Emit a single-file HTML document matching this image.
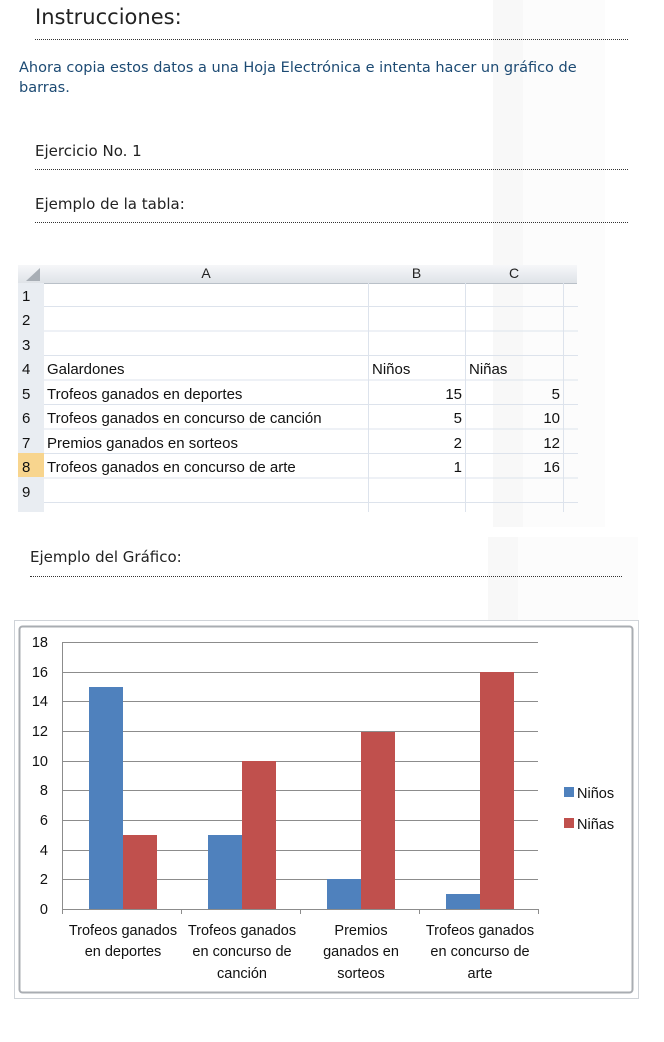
<!DOCTYPE html>
<html><head><meta charset="utf-8"><style>
body{margin:0;width:664px;height:1042px;background:#fff;position:relative;overflow:hidden;font-family:"DejaVu Sans",sans-serif}
.a{position:absolute;white-space:nowrap}
.dl{position:absolute;height:0;border-top:1px dotted #333}
.h{color:#222;font-size:15px}
</style></head><body>
<div class="a" style="left:493px;top:0;width:30px;height:527px;background:#f8f8f8"></div>
<div class="a" style="left:523px;top:0;width:82px;height:527px;background:#fcfcfc"></div>
<div class="a" style="left:488px;top:537px;width:30px;height:90px;background:#f8f8f8"></div>
<div class="a" style="left:518px;top:537px;width:120px;height:90px;background:#fcfcfc"></div>
<div class="a" style="left:35px;top:5px;font-size:21px;color:#222">Instrucciones:</div>
<div class="dl" style="left:35px;top:39px;width:593px"></div>
<div class="a" style="left:19px;top:58px;font-size:14.5px;color:#1c4a73;line-height:20px">Ahora copia estos datos a una Hoja Electrónica e intenta hacer un gráfico de<br>barras.</div>
<div class="a h" style="left:35px;top:142px">Ejercicio No. 1</div>
<div class="dl" style="left:35px;top:169px;width:593px"></div>
<div class="a h" style="left:35px;top:195px">Ejemplo de la tabla:</div>
<div class="dl" style="left:35px;top:222px;width:593px"></div>

<div class="a" style="left:18px;top:265px;width:559px;height:18px;background:linear-gradient(#f6f7f9,#dfe3e8);border-bottom:1px solid #b9c0c8"></div>
<div class="a" style="left:18px;top:283px;width:26px;height:229px;background:#e9edf2"></div>
<div class="a" style="left:18px;top:453px;width:26px;height:24px;background:#f8d58e"></div>
<svg class="a" style="left:20px;top:266px" width="22" height="16"><polygon points="20,2 20,15 6,15" fill="#a8aeb5"/></svg>
<div class="a" style="left:44px;top:265px;width:324px;text-align:center;font:14px 'Liberation Sans',sans-serif;color:#222">A</div>
<div class="a" style="left:368px;top:265px;width:97px;text-align:center;font:14px 'Liberation Sans',sans-serif;color:#222">B</div>
<div class="a" style="left:465px;top:265px;width:98px;text-align:center;font:14px 'Liberation Sans',sans-serif;color:#222">C</div>
<svg class="a" style="left:18px;top:283px" width="560" height="229" font-family="Liberation Sans,sans-serif" font-size="15" fill="#111">
<g stroke="#dde3ec" stroke-width="1">
<line x1="350.5" y1="0" x2="350.5" y2="229"/><line x1="447.5" y1="0" x2="447.5" y2="229"/><line x1="545.5" y1="0" x2="545.5" y2="229"/>
<line x1="26" y1="23.5" x2="560" y2="23.5"/><line x1="26" y1="48" x2="560" y2="48"/><line x1="26" y1="72.5" x2="560" y2="72.5"/><line x1="26" y1="97" x2="560" y2="97"/><line x1="26" y1="121.5" x2="560" y2="121.5"/><line x1="26" y1="146" x2="560" y2="146"/><line x1="26" y1="170.5" x2="560" y2="170.5"/><line x1="26" y1="195" x2="560" y2="195"/><line x1="26" y1="219.5" x2="560" y2="219.5"/>
</g>
<g><text x="4" y="18">1</text><text x="4" y="42">2</text><text x="4" y="67">3</text><text x="4" y="91">4</text><text x="4" y="116">5</text><text x="4" y="140">6</text><text x="4" y="165">7</text><text x="4" y="189">8</text><text x="4" y="214">9</text>
<text x="29" y="91">Galardones</text><text x="354" y="91">Niños</text><text x="451" y="91">Niñas</text>
<text x="29" y="116">Trofeos ganados en deportes</text><text x="29" y="140">Trofeos ganados en concurso de canción</text><text x="29" y="165">Premios ganados en sorteos</text><text x="29" y="189">Trofeos ganados en concurso de arte</text>
<g text-anchor="end"><text x="444" y="116">15</text><text x="444" y="140">5</text><text x="444" y="165">2</text><text x="444" y="189">1</text>
<text x="542" y="116">5</text><text x="542" y="140">10</text><text x="542" y="165">12</text><text x="542" y="189">16</text></g></g>
</svg>

<div class="a h" style="left:30px;top:548px">Ejemplo del Gráfico:</div>
<div class="dl" style="left:30px;top:576px;width:592px"></div>

<svg class="a" style="left:0;top:615px" width="664" height="390" font-family="Liberation Sans,sans-serif" font-size="14.5" fill="#111">
<rect x="14.5" y="5.5" width="624" height="378" fill="#fff" stroke="#cfd3d8"/>
<rect x="19.5" y="11.5" width="613" height="366" fill="#fff" stroke="#a9adb2" stroke-width="2" rx="3"/>
<g stroke="#8c8c8c" stroke-width="1">
<line x1="62" y1="27.5" x2="538" y2="27.5"/><line x1="62" y1="57.5" x2="538" y2="57.5"/><line x1="62" y1="86.5" x2="538" y2="86.5"/><line x1="62" y1="116.5" x2="538" y2="116.5"/><line x1="62" y1="146.5" x2="538" y2="146.5"/><line x1="62" y1="175.5" x2="538" y2="175.5"/><line x1="62" y1="205.5" x2="538" y2="205.5"/><line x1="62" y1="235.5" x2="538" y2="235.5"/><line x1="62" y1="264.5" x2="538" y2="264.5"/>
<line x1="62" y1="294.5" x2="538" y2="294.5"/><line x1="62.5" y1="27" x2="62.5" y2="299"/>
<line x1="181.5" y1="294" x2="181.5" y2="299"/><line x1="300.5" y1="294" x2="300.5" y2="299"/><line x1="419.5" y1="294" x2="419.5" y2="299"/><line x1="538.5" y1="294" x2="538.5" y2="299"/>
</g>
<g fill="#4f81bd"><rect x="89" y="72" width="34" height="222"/><rect x="208" y="220" width="34" height="74"/><rect x="327" y="264" width="34" height="30"/><rect x="446" y="279" width="34" height="15"/></g>
<g fill="#c0504d"><rect x="123" y="220" width="34" height="74"/><rect x="242" y="146" width="34" height="148"/><rect x="361" y="117" width="34" height="177"/><rect x="480" y="57" width="34" height="237"/></g>
<g text-anchor="end"><text x="48" y="32">18</text><text x="48" y="62">16</text><text x="48" y="91">14</text><text x="48" y="121">12</text><text x="48" y="151">10</text><text x="48" y="180">8</text><text x="48" y="210">6</text><text x="48" y="240">4</text><text x="48" y="269">2</text><text x="48" y="299">0</text></g>
<g text-anchor="middle"><text x="123" y="320">Trofeos ganados</text><text x="123" y="341">en deportes</text>
<text x="242" y="320">Trofeos ganados</text><text x="242" y="341">en concurso de</text><text x="242" y="363">canción</text>
<text x="361" y="320">Premios</text><text x="361" y="341">ganados en</text><text x="361" y="363">sorteos</text>
<text x="480" y="320">Trofeos ganados</text><text x="480" y="341">en concurso de</text><text x="480" y="363">arte</text></g>
<rect x="564" y="172" width="10" height="10" fill="#4f81bd"/><text x="577" y="183">Niños</text>
<rect x="564" y="203" width="10" height="10" fill="#c0504d"/><text x="577" y="214">Niñas</text>
</svg>
</body></html>
